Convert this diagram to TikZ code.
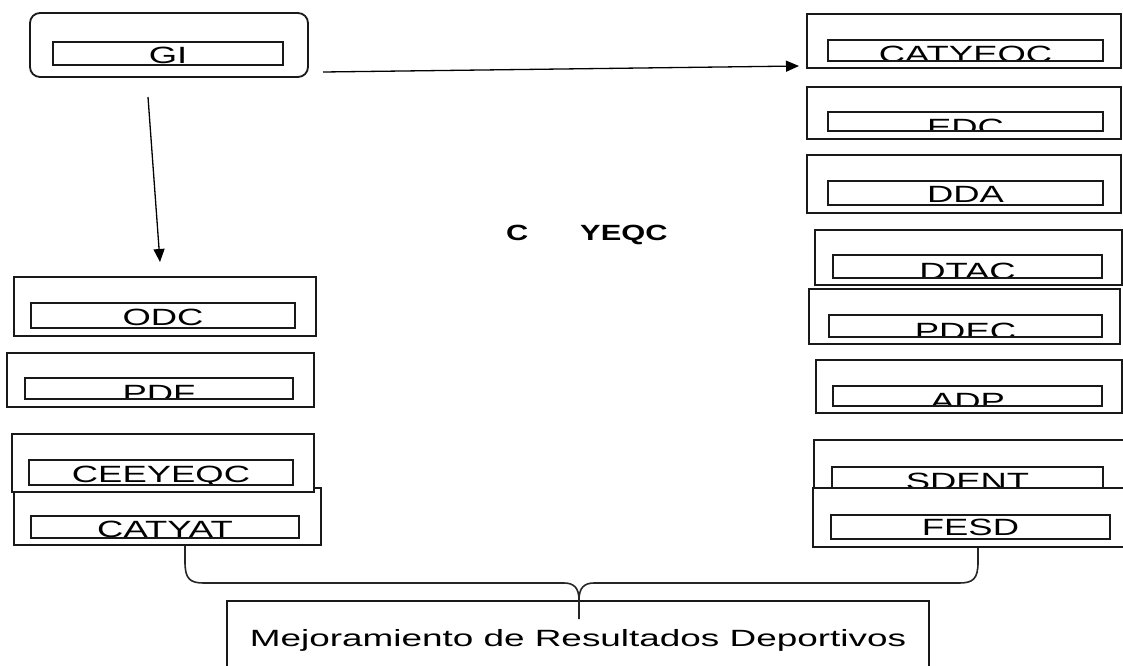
\documentclass[tikz,border=0pt]{standalone}
\usepackage{fontspec}
\usepackage{graphicx}
\setmainfont{Liberation Sans}
\usetikzlibrary{arrows.meta}
\tikzset{
  outerbox/.style={draw=black!90, fill=white, line width=1.8pt, inner sep=0pt, outer sep=0pt, rectangle},
  roundbox/.style={outerbox, rounded corners=10pt},
  innerbox/.style={draw=black!90, line width=1.8pt},
  labtext/.style={anchor=base, inner sep=0pt, outer sep=0pt, font=\fontsize{23.5}{23.5}\selectfont},
  centertext/.style={anchor=base west, inner sep=0pt, font=\bfseries\fontsize{22}{22}\selectfont},
  arr/.style={line width=1.3pt, -{Triangle[length=13pt,width=11pt]}},
  bracestyle/.style={line width=1.6pt, black!85}
}
\newcommand\oboxA[6]{%
  \pgfmathsetmacro\myBW{#4-#2}\pgfmathsetmacro\myBH{#5-#3}%
  \node[#6, minimum width=\myBW pt, minimum height=\myBH pt] (#1) at ({(#2+#4)/2},{(#3+#5)/2}) {};}
\newcommand\ilabA[7]{%
  \begin{scope}
    \clip (#2,#3) rectangle (#4,#5);
    \node[labtext] (#1) at ({(#2+#4)/2},#6) {\scalebox{1.55}[1]{#7}};
  \end{scope}
  \draw[innerbox] (#2,#3) rectangle (#4,#5);}
\begin{document}
\begin{tikzpicture}[x=1pt,y=-1pt]
\useasboundingbox (0,0) rectangle (1123,665);
\fill[white] (0,0) rectangle (1123,665);

% GI
\oboxA{gi}{30}{13}{308}{77}{roundbox}
\ilabA{tgi}{53}{42}{283}{65}{63.5}{GI}

% right column
\oboxA{catyeqc}{807}{14}{1121}{68}{outerbox}
\ilabA{tcatyeqc}{828}{40}{1103}{61}{62}{CATYEQC}
\oboxA{edc}{807}{87}{1121}{139}{outerbox}
\ilabA{tedc}{828}{112}{1103}{131}{135}{EDC}
\oboxA{dda}{807}{155}{1121}{213}{outerbox}
\ilabA{tdda}{828}{181}{1103}{205}{202.5}{DDA}
\oboxA{dtac}{815}{230}{1122}{285}{outerbox}
\ilabA{tdtac}{833}{255}{1102}{278}{279}{DTAC}
\oboxA{pdec}{809}{289}{1120}{344}{outerbox}
\ilabA{tpdec}{829}{315}{1102}{337}{339}{PDEC}
\oboxA{adp}{816}{360}{1122}{413}{outerbox}
\ilabA{tadp}{833}{386}{1102}{406}{409}{ADP}
\oboxA{sdent}{814}{440}{1126}{520}{outerbox}
\ilabA{tsdent}{832}{467}{1103}{500}{489}{SDENT}
\oboxA{fesd}{813}{488}{1126}{547}{outerbox}
\ilabA{tfesd}{831}{515}{1110}{539}{535.5}{FESD}

% left column
\oboxA{odc}{14}{277}{316}{336}{outerbox}
\ilabA{todc}{31}{303}{295}{328}{325}{ODC}
\oboxA{pdf}{7}{353}{314}{407}{outerbox}
\ilabA{tpdf}{25}{378}{293}{399}{401}{PDF}
\oboxA{catyat}{14}{488}{321}{545}{outerbox}
\ilabA{tcatyat}{31}{516}{299}{538}{537}{CATYAT}
\oboxA{ceeyeqc}{12}{434}{314}{492}{outerbox}
\ilabA{tceeyeqc}{29}{460}{293}{485}{482.5}{CEEYEQC}

% center label
\node[centertext] (c1) at (506,240) {\scalebox{1.4}[1]{C}};
\node[centertext] (c2) at (580,240) {\scalebox{1.4}[1]{YEQC}};

% result box
\oboxA{mrd}{227}{601}{929}{690}{outerbox}
\node[labtext] (tmrd) at (578,646) {\scalebox{1.57}[1]{Mejoramiento de Resultados Deportivos}};

% arrows
\coordinate (a1s) at (148,97);
\coordinate (a1e) at (160,262);
\draw[arr] (a1s) -- (a1e);
\coordinate (a2s) at (323,72);
\coordinate (a2e) at (799,66);
\draw[arr] (a2s) -- (a2e);

% brace
\coordinate (bl) at (185,546);
\coordinate (br) at (978,548);
\coordinate (bt) at (579,619);
\draw[bracestyle] (bl) -- (185,562) .. controls (185,579) and (190,583) .. (204,583)
  -- (564,583) .. controls (574,583) and (579,588) .. (579,600) -- (bt);
\draw[bracestyle] (br) -- (978,562) .. controls (978,579) and (973,583) .. (959,583)
  -- (594,583) .. controls (584,583) and (579,588) .. (579,600);
\end{tikzpicture}
\end{document}
